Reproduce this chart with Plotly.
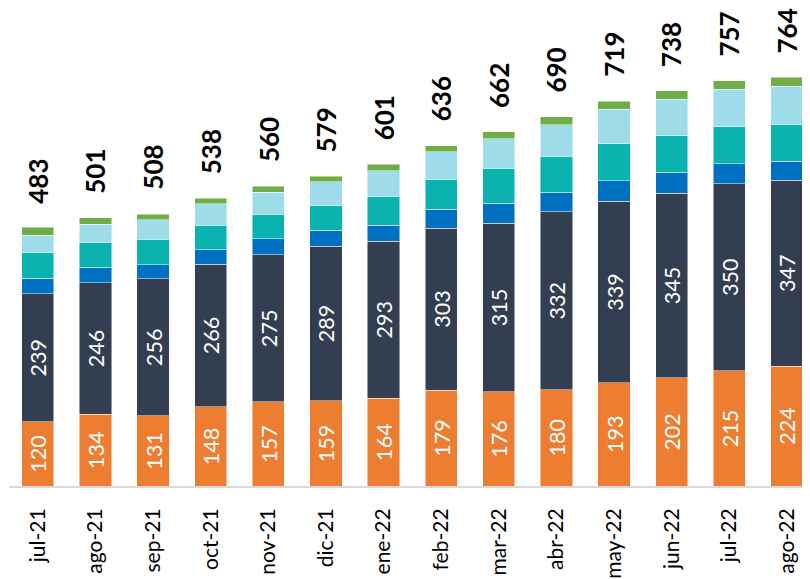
import plotly.graph_objects as go

meses = ['jul-21', 'ago-21', 'sep-21', 'oct-21', 'nov-21', 'dic-21', 'ene-22',
         'feb-22', 'mar-22', 'abr-22', 'may-22', 'jun-22', 'jul-22', 'ago-22']

naranja = [120, 134, 131, 148, 157, 159, 164, 179, 176, 180, 193, 202, 215, 224]
marino = [239, 246, 256, 266, 275, 289, 293, 303, 315, 332, 339, 345, 350, 347]
azul = [29, 29, 26, 27, 30, 30, 30, 35, 37, 37, 38, 39, 37, 36]
turquesa = [48, 46, 48, 46, 46, 46, 53, 55, 65, 67, 69, 68, 69, 68]
celeste = [32, 34, 36, 40, 41, 44, 49, 52, 56, 59, 65, 69, 70, 72]
verde = [15, 12, 11, 11, 11, 11, 12, 12, 13, 15, 15, 15, 16, 17]
totales = [483, 501, 508, 538, 560, 579, 601, 636, 662, 690, 719, 738, 757, 764]

FONT = 'Lato'
borde = dict(color='rgba(255,255,255,0.6)', width=0.8)

fig = go.Figure()

series = [
    (naranja, '#ED7D31', True),
    (marino, '#333F50', True),
    (azul, '#0070C0', False),
    (turquesa, '#0AB3AF', False),
    (celeste, '#9DDCE8', False),
    (verde, '#70AD47', False),
]

for vals, color, etiquetas in series:
    fig.add_trace(
        go.Bar(
            x=meses,
            y=vals,
            marker=dict(color=color, line=borde),
            text=[str(v) for v in vals] if etiquetas else None,
            textposition='inside' if etiquetas else 'none',
            textangle=-90,
            insidetextanchor='middle',
            insidetextfont=dict(family=FONT, size=23, color='white'),
            showlegend=False,
            hoverinfo='skip'
        )
    )

for mes, total in zip(meses, totales):
    fig.add_annotation(
        x=mes, y=total,
        text=f'<b>{total}</b>',
        textangle=-90,
        showarrow=False,
        yanchor='bottom',
        yshift=22,
        font=dict(family=FONT, size=26, color='black')
    )

# la pagina tiene 8px de margen en body, se compensa aqui
fig.update_layout(
    barmode='stack',
    bargap=0.44,
    width=802,
    height=571,
    margin=dict(l=1, r=0, t=0, b=93),
    plot_bgcolor='white',
    paper_bgcolor='white',
    xaxis=dict(
        range=[-0.5, 13.4],
        automargin=False,
        tickangle=-90,
        tickfont=dict(family=FONT, size=21, color='black'),
        showline=True,
        linecolor='#d9d9d9',
        linewidth=2,
        ticks='outside',
        ticklen=12,
        tickcolor='rgba(0,0,0,0)',
        showgrid=False
    ),
    yaxis=dict(
        range=[0, 893],
        visible=False,
        showgrid=False
    )
)

fig.write_html("out.html")
